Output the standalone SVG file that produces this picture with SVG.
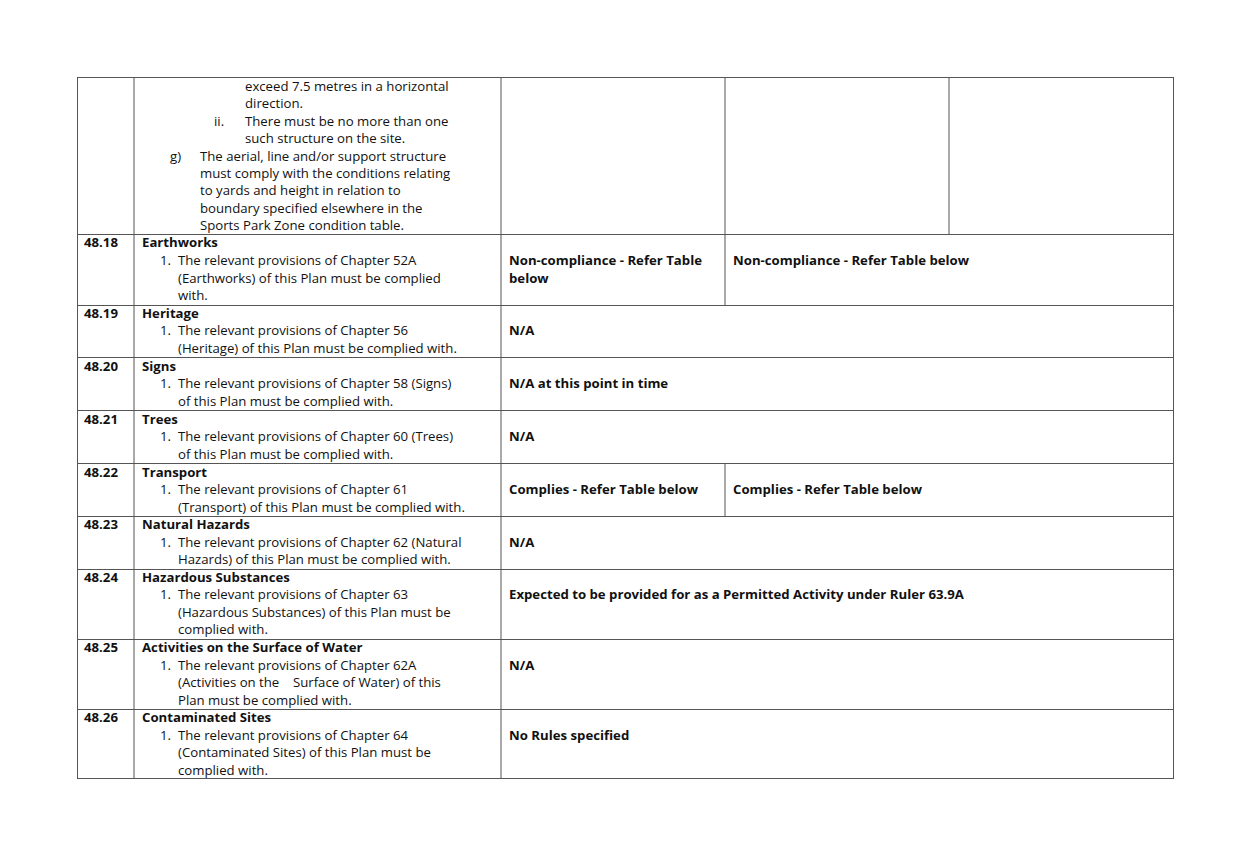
<svg xmlns="http://www.w3.org/2000/svg" width="1250" height="863" viewBox="0 0 1250 863">
<style>
text{font-family:"Open Sans","DejaVu Sans",sans-serif;font-size:13.2px;fill:#111}
.b{font-weight:bold}
line{stroke:#555;stroke-width:1}
</style>
<rect width="1250" height="863" fill="#fff"/>
<g id="grid">
<rect x="77.5" y="77.5" width="1096" height="701" fill="none" stroke="#555"/>
<line x1="134" y1="77" x2="134" y2="779"/>
<line x1="501" y1="77" x2="501" y2="779"/>
<line x1="725" y1="77" x2="725" y2="234"/>
<line x1="949" y1="77" x2="949" y2="234"/>
<line x1="725" y1="234" x2="725" y2="305"/>
<line x1="725" y1="463" x2="725" y2="516"/>
<line x1="77" y1="234.5" x2="1174" y2="234.5"/>
<line x1="77" y1="305.5" x2="1174" y2="305.5"/>
<line x1="77" y1="357.5" x2="1174" y2="357.5"/>
<line x1="77" y1="410.5" x2="1174" y2="410.5"/>
<line x1="77" y1="463.5" x2="1174" y2="463.5"/>
<line x1="77" y1="516.5" x2="1174" y2="516.5"/>
<line x1="77" y1="569.5" x2="1174" y2="569.5"/>
<line x1="77" y1="639.5" x2="1174" y2="639.5"/>
<line x1="77" y1="709.5" x2="1174" y2="709.5"/>
</g>
<g id="row0">
<text x="245" y="91">exceed 7.5 metres in a horizontal</text>
<text x="245" y="108">direction.</text>
<text x="214" y="126">ii.</text><text x="245" y="126">There must be no more than one</text>
<text x="245" y="143">such structure on the site.</text>
<text x="170" y="161">g)</text><text x="200" y="161">The aerial, line and/or support structure</text>
<text x="200" y="178">must comply with the conditions relating</text>
<text x="200" y="195">to yards and height in relation to</text>
<text x="200" y="213">boundary specified elsewhere in the</text>
<text x="200" y="230">Sports Park Zone condition table.</text>
</g>
<g id="r4818">
<text class="b" x="84" y="247">48.18</text><text class="b" x="142" y="247">Earthworks</text>
<text x="160" y="265">1.</text><text x="178" y="265">The relevant provisions of Chapter 52A</text>
<text x="178" y="283">(Earthworks) of this Plan must be complied</text>
<text x="178" y="300">with.</text>
<text class="b" x="509" y="265">Non-compliance - Refer Table</text><text class="b" x="509" y="283">below</text>
<text class="b" x="733" y="265">Non-compliance - Refer Table below</text>
</g>
<g id="r4819">
<text class="b" x="84" y="318">48.19</text><text class="b" x="142" y="318">Heritage</text>
<text x="160" y="335">1.</text><text x="178" y="335">The relevant provisions of Chapter 56</text>
<text x="178" y="353">(Heritage) of this Plan must be complied with.</text>
<text class="b" x="509" y="335">N/A</text>
</g>
<g id="r4820">
<text class="b" x="84" y="371">48.20</text><text class="b" x="142" y="371">Signs</text>
<text x="160" y="388">1.</text><text x="178" y="388">The relevant provisions of Chapter 58 (Signs)</text>
<text x="178" y="406">of this Plan must be complied with.</text>
<text class="b" x="509" y="388">N/A at this point in time</text>
</g>
<g id="r4821">
<text class="b" x="84" y="424">48.21</text><text class="b" x="142" y="424">Trees</text>
<text x="160" y="441">1.</text><text x="178" y="441">The relevant provisions of Chapter 60 (Trees)</text>
<text x="178" y="459">of this Plan must be complied with.</text>
<text class="b" x="509" y="441">N/A</text>
</g>
<g id="r4822">
<text class="b" x="84" y="477">48.22</text><text class="b" x="142" y="477">Transport</text>
<text x="160" y="494">1.</text><text x="178" y="494">The relevant provisions of Chapter 61</text>
<text x="178" y="512">(Transport) of this Plan must be complied with.</text>
<text class="b" x="509" y="494">Complies - Refer Table below</text>
<text class="b" x="733" y="494">Complies - Refer Table below</text>
</g>
<g id="r4823">
<text class="b" x="84" y="529">48.23</text><text class="b" x="142" y="529">Natural Hazards</text>
<text x="160" y="547">1.</text><text x="178" y="547">The relevant provisions of Chapter 62 (Natural</text>
<text x="178" y="564">Hazards) of this Plan must be complied with.</text>
<text class="b" x="509" y="547">N/A</text>
</g>
<g id="r4824">
<text class="b" x="84" y="582">48.24</text><text class="b" x="142" y="582">Hazardous Substances</text>
<text x="160" y="599">1.</text><text x="178" y="599">The relevant provisions of Chapter 63</text>
<text x="178" y="617">(Hazardous Substances) of this Plan must be</text>
<text x="178" y="634">complied with.</text>
<text class="b" x="509" y="599">Expected to be provided for as a Permitted Activity under Ruler 63.9A</text>
</g>
<g id="r4825">
<text class="b" x="84" y="652">48.25</text><text class="b" x="142" y="652">Activities on the Surface of Water</text>
<text x="160" y="670">1.</text><text x="178" y="670">The relevant provisions of Chapter 62A</text>
<text x="178" y="687" xml:space="preserve">(Activities on the    Surface of Water) of this</text>
<text x="178" y="705">Plan must be complied with.</text>
<text class="b" x="509" y="670">N/A</text>
</g>
<g id="r4826">
<text class="b" x="84" y="722">48.26</text><text class="b" x="142" y="722">Contaminated Sites</text>
<text x="160" y="740">1.</text><text x="178" y="740">The relevant provisions of Chapter 64</text>
<text x="178" y="757">(Contaminated Sites) of this Plan must be</text>
<text x="178" y="775">complied with.</text>
<text class="b" x="509" y="740">No Rules specified</text>
</g>
</svg>
